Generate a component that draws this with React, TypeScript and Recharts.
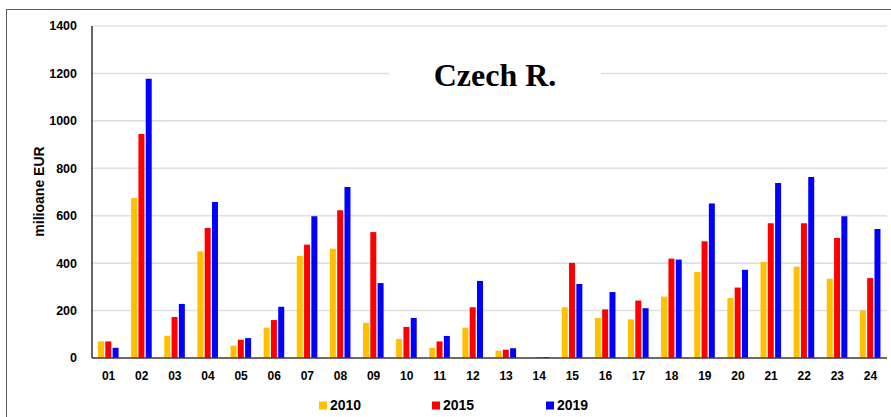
import React from "react";
import { BarChart, Bar, XAxis, YAxis, CartesianGrid } from "recharts";

const categories = ["01","02","03","04","05","06","07","08","09","10","11","12","13","14","15","16","17","18","19","20","21","22","23","24"];
const values2010 = [70, 675, 94, 450, 52, 128, 431, 461, 148, 80, 43, 128, 31, 1, 214, 169, 163, 259, 363, 253, 405, 385, 334, 200];
const values2015 = [70, 945, 173, 548, 77, 160, 478, 623, 531, 131, 70, 214, 35, 3, 401, 205, 242, 419, 492, 297, 568, 568, 506, 337];
const values2019 = [43, 1178, 228, 658, 84, 216, 598, 721, 316, 169, 93, 325, 41, 4, 312, 278, 210, 415, 652, 372, 738, 763, 598, 544];
const yTicks = [0, 200, 400, 600, 800, 1000, 1200, 1400];
const seriesNames = ["2010", "2015", "2019"];
const seriesColors = ["#FFC000", "#FF0000", "#0000FF"];
const title = "Czech R.";
const yLabel = "milioane EUR";

const data = categories.map((c, i) => ({
  cat: c,
  s2010: values2010[i],
  s2015: values2015[i],
  s2019: values2019[i],
}));

const SANS = '"Liberation Sans", Arial, sans-serif';
const SERIF = '"Liberation Serif", "Times New Roman", serif';

export default function App() {
  const legendX = [319, 432, 546];
  return (
    <div style={{ position: "absolute", left: 0, top: 0, width: 891, height: 417, background: "#fff", overflow: "hidden" }}>
      <BarChart
        width={891}
        height={417}
        data={data}
        margin={{ top: 26, right: 4, left: 32, bottom: 29 }}
        barSize={6}
        barGap={1.3}
      >
        <CartesianGrid vertical={false} stroke="#e0e0e0" strokeWidth={1.6} />
        <XAxis
          dataKey="cat"
          interval={0}
          height={30}
          tickLine={false}
          tickMargin={7}
          axisLine={{ stroke: "#404040", strokeWidth: 1.5 }}
          tick={{ fill: "#000", fontSize: 12, fontWeight: "bold", fontFamily: SANS }}
        />
        <YAxis
          width={60}
          domain={[0, 1400]}
          ticks={yTicks}
          interval={0}
          tickLine={false}
          tickMargin={9}
          axisLine={{ stroke: "#000", strokeWidth: 1.2 }}
          tick={{ fill: "#000", fontSize: 12.5, fontWeight: "bold", fontFamily: SANS }}
        />
        <Bar dataKey="s2010" name={seriesNames[0]} fill={seriesColors[0]} isAnimationActive={false} />
        <Bar dataKey="s2015" name={seriesNames[1]} fill={seriesColors[1]} isAnimationActive={false} />
        <Bar dataKey="s2019" name={seriesNames[2]} fill={seriesColors[2]} isAnimationActive={false} />
      </BarChart>
      <svg width={891} height={417} style={{ position: "absolute", left: 0, top: 0, pointerEvents: "none" }}>
        <rect x={6.5} y={9.5} width={900} height={420} fill="none" stroke="#595959" strokeWidth={1} />
        <rect x={389} y={48} width={212} height={56} fill="#fff" />
        <text x={495} y={86} textAnchor="middle" fontFamily={SERIF} fontWeight="bold" fontSize={32} fill="#000">
          {title}
        </text>
        <text
          x={44}
          y={191.5}
          transform="rotate(-90 44 191.5)"
          textAnchor="middle"
          fontFamily={SANS}
          fontWeight="bold"
          fontSize={14}
          fill="#000"
        >
          {yLabel}
        </text>
        {seriesNames.map((n, i) => (
          <g key={n}>
            <rect x={legendX[i]} y={401.5} width={8} height={8} fill={seriesColors[i]} />
            <text x={legendX[i] + 11} y={410} fontFamily={SANS} fontWeight="bold" fontSize={14} fill="#000">
              {n}
            </text>
          </g>
        ))}
      </svg>
    </div>
  );
}
